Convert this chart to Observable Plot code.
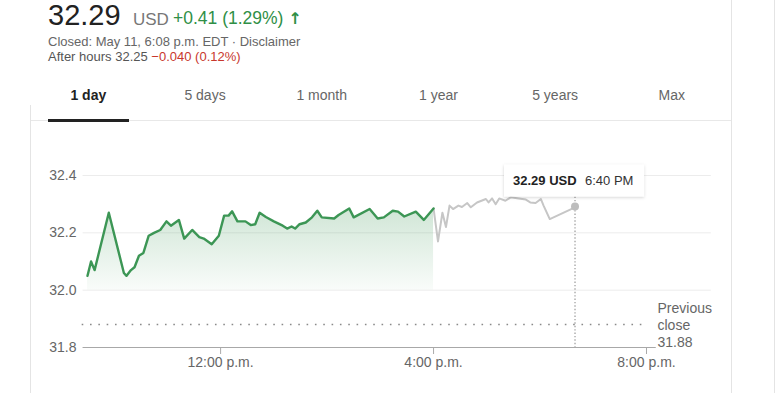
<!DOCTYPE html>
<html>
<head>
<meta charset="utf-8">
<script src="https://cdn.jsdelivr.net/npm/d3@7"></script>
<script src="https://cdn.jsdelivr.net/npm/@observablehq/plot@0.6"></script>
<style>
  body { margin: 0; background: #fff; font-family: Arial, "Liberation Sans", sans-serif; }
  #wrap { position: relative; width: 777px; height: 393px; overflow: hidden; background: #fff; }
  #head { position: relative; width: 777px; height: 130px; }
  .abs { position: absolute; white-space: nowrap; }
  .tab { position: absolute; top: 88px; width: 116.7px; text-align: center; font-size: 14px; line-height: 14px; color: #666; }
  .vline { position: absolute; width: 1px; background: #e4e4e4; }
  #chart { position: relative; width: 777px; height: 263px; }
  g[aria-label="x-axis tick"] { stroke: #aaa; }
</style>
</head>
<body>
<div id="wrap">
  <div id="head"></div>
  <div id="chart"></div>
</div>
<script>
// ---- data ----
const sessionTimes = ["9:30","9:34","9:38","9:54","10:11","10:14","10:19","10:23","10:28","10:33","10:39","10:45","10:52","10:59","11:04","11:13","11:19","11:28","11:36","11:41","11:50","11:58","12:04","12:09","12:13","12:19","12:28","12:34","12:39","12:44","12:51","13:00","13:10","13:15","13:20","13:24","13:29","13:36","13:43","13:49","13:54","14:08","14:13","14:25","14:30","14:48","14:57","15:04","15:14","15:20","15:27","15:40","15:49","16:00"];
const sessionPrices = [32.05,32.10,32.07,32.27,32.06,32.05,32.07,32.08,32.12,32.13,32.19,32.20,32.21,32.24,32.225,32.245,32.18,32.21,32.185,32.18,32.16,32.19,32.26,32.26,32.275,32.24,32.24,32.227,32.23,32.27,32.255,32.24,32.225,32.215,32.222,32.215,32.23,32.236,32.254,32.277,32.254,32.25,32.262,32.285,32.254,32.283,32.25,32.254,32.277,32.274,32.257,32.274,32.245,32.285];
const afterTimes = ["16:00","16:05","16:10","16:14","16:18","16:22","16:28","16:32","16:38","16:42","16:49","16:59","17:02","17:06","17:10","17:14","17:21","17:27","17:36","17:44","17:49","17:55","18:01","18:04","18:11","18:40"];
const afterPrices = [32.285,32.17,32.27,32.22,32.295,32.283,32.295,32.29,32.304,32.289,32.306,32.318,32.306,32.32,32.30,32.32,32.312,32.324,32.32,32.316,32.306,32.304,32.318,32.295,32.248,32.29];
const previousClose = 31.88;
const yTicks = [31.8, 32.0, 32.2, 32.4];
const gridValues = [32.0, 32.2, 32.4];
const xTickTimes = ["12:00","16:00","20:00"];
const xTickLabels = ["12:00 p.m.","4:00 p.m.","8:00 p.m."];
const xDomainTimes = ["9:30","20:00"];
const baselineSpan = ["9:25","20:11"];
const gridSpan = ["9:25","21:13"];
const closeSpan = ["9:24","20:00"];
const tipTime = "18:40";
const tipValue = 32.29;
const tipLabelPrice = "32.29 USD";
const tipLabelTime = "6:40 PM";
const tabs = ["1 day","5 days","1 month","1 year","5 years","Max"];

// ---- header ----
const head = document.getElementById("head");
head.innerHTML = `
  <div class="abs" style="left:48px;top:0.5px;font-size:29px;line-height:29px;color:#222">32.29</div>
  <div class="abs" style="left:133px;top:10.5px;font-size:17px;line-height:17px;color:#777">USD</div>
  <div class="abs" style="left:173px;top:10px;font-size:17.5px;line-height:17.5px;color:#2f8f46">+0.41 (1.29%) <span style="font-family:'DejaVu Sans';font-weight:bold;font-size:16px">↑</span></div>
  <div class="abs" style="left:48px;top:35px;font-size:13px;line-height:13px;color:#666">Closed: May 11, 6:08 p.m. EDT · Disclaimer</div>
  <div class="abs" style="left:48px;top:50px;font-size:13px;line-height:13px;color:#555">After hours 32.25 <span style="color:#c8372d">−0.040 (0.12%)</span></div>
  <div class="abs" style="left:30px;top:119.5px;width:701px;height:1px;background:#e8e8e8"></div>
  <div class="abs" style="left:48px;top:119px;width:81px;height:3px;background:#222"></div>
`;
tabs.forEach((t, i) => {
  const d = document.createElement("div");
  d.className = "tab";
  d.style.left = (30 + i * 116.7) + "px";
  if (i === 0) { d.style.color = "#222"; d.style.fontWeight = "bold"; }
  d.textContent = t;
  head.appendChild(d);
});
const wrap = document.getElementById("wrap");
[[30, 105, 288], [731, 0, 393], [774, 0, 393]].forEach(([x, t, h]) => {
  const v = document.createElement("div");
  v.className = "vline";
  v.style.left = x + "px"; v.style.top = t + "px"; v.style.height = h + "px";
  wrap.appendChild(v);
});

// ---- chart ----
const toDate = s => { const [h, m] = s.split(":").map(Number); return new Date(2018, 4, 11, h, m); };
const session = sessionTimes.map((t, i) => ({t: toDate(t), v: sessionPrices[i]}));
const after = afterTimes.map((t, i) => ({t: toDate(t), v: afterPrices[i]}));
const labelByHour = new Map(xTickTimes.map((t, i) => [toDate(t).getHours(), xTickLabels[i]]));
const yMin = yTicks[0];
const tipT = toDate(tipTime);

const defsMark = () => {
  const d = d3.create("svg:defs");
  const lg = d.append("linearGradient").attr("id", "greenFade").attr("x1", 0).attr("y1", 0).attr("x2", 0).attr("y2", 1);
  lg.append("stop").attr("offset", "0%").attr("stop-color", "#3c9655").attr("stop-opacity", 0.24);
  lg.append("stop").attr("offset", "100%").attr("stop-color", "#3c9655").attr("stop-opacity", 0.03);
  const f = d.append("filter").attr("id", "tipShadow").attr("x", "-20%").attr("y", "-40%").attr("width", "140%").attr("height", "180%");
  f.append("feDropShadow").attr("dx", 0).attr("dy", 1).attr("stdDeviation", 1.5).attr("flood-color", "#000").attr("flood-opacity", 0.18);
  return d.node();
};

const tipMark = (index, scales) => {
  const px = scales.x(tipT), py = scales.y(tipValue), by = scales.y(yMin);
  const g = d3.create("svg:g").attr("text-anchor", "start");
  g.append("line").attr("x1", px).attr("x2", px).attr("y1", py - 10).attr("y2", by)
    .attr("stroke", "#999").attr("stroke-width", 1.2).attr("stroke-dasharray", "1.4,2");
  g.append("circle").attr("cx", px).attr("cy", py).attr("r", 4).attr("fill", "#bdbdbd");
  g.append("rect").attr("x", px - 71).attr("y", py - 42).attr("width", 140).attr("height", 32)
    .attr("fill", "#fff").attr("filter", "url(#tipShadow)");
  g.append("text").attr("x", px - 62).attr("y", py - 26).attr("dy", "0.35em").attr("text-anchor", "start")
    .attr("font-size", 13).attr("font-weight", "bold").attr("fill", "#222").text(tipLabelPrice);
  g.append("text").attr("x", px + 10).attr("y", py - 26).attr("dy", "0.35em").attr("text-anchor", "start")
    .attr("font-size", 13).attr("fill", "#333").text(tipLabelTime);
  return g.node();
};

const chart = Plot.plot({
  width: 777,
  height: 263,
  marginLeft: 87,
  marginRight: 131,
  marginTop: 45,
  marginBottom: 46,
  style: {fontFamily: "Arial, 'Liberation Sans', sans-serif", fontSize: "14px", color: "#666", background: "transparent", overflow: "visible"},
  x: {type: "time", domain: xDomainTimes.map(toDate), ticks: xTickTimes.map(toDate),
      tickFormat: d => labelByHour.get(d.getHours()), tickSize: 7, tickPadding: 3, label: null},
  y: {domain: [yTicks[0], yTicks[yTicks.length - 1]], ticks: yTicks, tickFormat: d3.format(".1f"),
      tickSize: 0, tickPadding: 11, label: null},
  marks: [
    defsMark,
    Plot.ruleY(gridValues, {x1: () => toDate(gridSpan[0]), x2: () => toDate(gridSpan[1]), stroke: "#ececec", strokeWidth: 1}),
    Plot.ruleY([yMin], {x1: () => toDate(baselineSpan[0]), x2: () => toDate(baselineSpan[1]), stroke: "#a8a8a8", strokeWidth: 1.2}),
    Plot.ruleY([previousClose], {x1: () => toDate(closeSpan[0]), x2: () => toDate(closeSpan[1]), stroke: "#8a8a8a", strokeWidth: 1.6, strokeDasharray: "1.6,6.73"}),
    Plot.areaY(session, {x: "t", y1: () => 32.0, y2: "v", fill: "url(#greenFade)"}),
    Plot.line(after, {x: "t", y: "v", stroke: "#c6c6c6", strokeWidth: 2}),
    Plot.line(session, {x: "t", y: "v", stroke: "#3c9655", strokeWidth: 2.4}),
    Plot.text([previousClose], {x: () => toDate(xDomainTimes[1]), y: d => d, text: d => `Previous\nclose\n${d.toFixed(2)}`,
      dx: 11, textAnchor: "start", lineHeight: 1.19, fontSize: 14, fill: "#666"}),
    tipMark
  ]
});
document.getElementById("chart").appendChild(chart);
</script>
</body>
</html>
